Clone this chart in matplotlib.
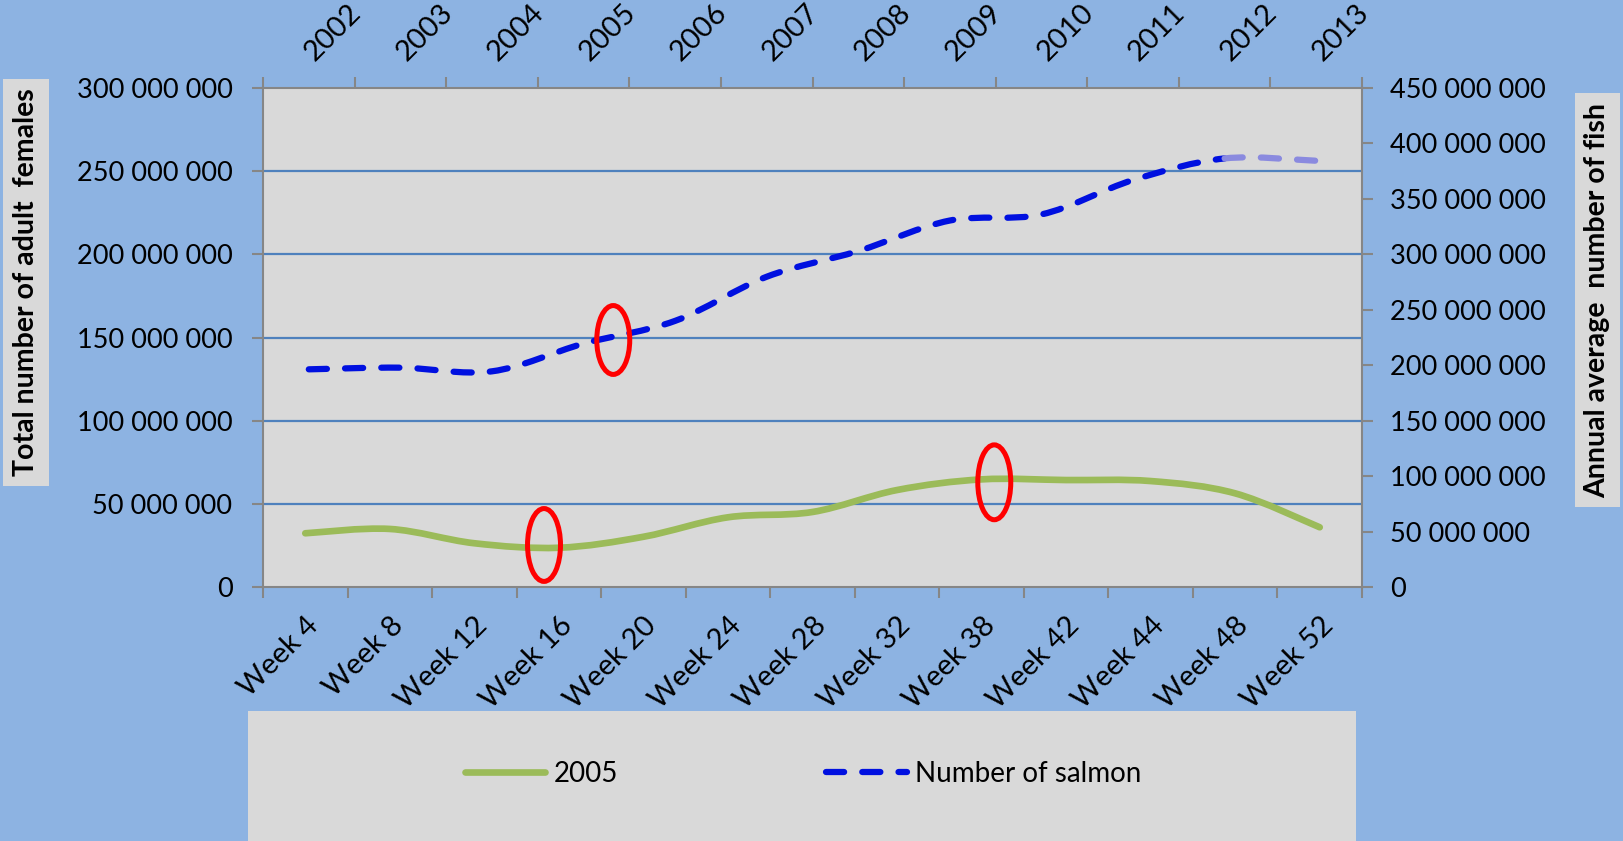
import numpy as np
import matplotlib
matplotlib.use('Agg')
import matplotlib.pyplot as plt
from matplotlib.path import Path
from matplotlib.patches import PathPatch, Ellipse
from matplotlib.lines import Line2D
from matplotlib.ticker import FuncFormatter
from matplotlib.transforms import ScaledTranslation

plt.rcParams['font.family'] = ['Lato', 'DejaVu Sans']

# data
weeks = ['Week 4', 'Week 8', 'Week 12', 'Week 16', 'Week 20', 'Week 24', 'Week 28',
         'Week 32', 'Week 38', 'Week 42', 'Week 44', 'Week 48', 'Week 52']
females_2005 = [32.3e6, 34.9e6, 26.3e6, 23.6e6, 30.2e6, 41.9e6, 45.1e6,
                58.3e6, 64.7e6, 64.3e6, 63.7e6, 56.3e6, 35.9e6]
years = ['2002', '2003', '2004', '2005', '2006', '2007', '2008',
         '2009', '2010', '2011', '2012', '2013']
salmon = [196.3e6, 197.8e6, 194.5e6, 219.5e6, 240e6, 279.8e6, 303e6,
          330.5e6, 336e6, 367e6, 386.5e6, 384.4e6]

BG = '#8DB3E2'
PANEL = '#D9D9D9'
GRID = '#4F81BD'
SPINE = '#868686'
GREEN = '#9BBB59'
BLUE = '#0010E0'
LIGHT_BLUE = '#8A8ADF'


def smooth_segments(xs, ys):
    """Bezier segments (Catmull-Rom style) like Excel smoothed lines"""
    pts = np.column_stack([xs, ys]).astype(float)
    n = len(pts)
    segs = []
    for i in range(n - 1):
        p0 = pts[max(i - 1, 0)]
        p1 = pts[i]
        p2 = pts[i + 1]
        p3 = pts[min(i + 2, n - 1)]
        c1 = p1 + (p2 - p0) / 6
        c2 = p2 - (p3 - p1) / 6
        segs.append((p1, c1, c2, p2))
    return segs


def segs_to_path(segs):
    verts = [segs[0][0]]
    codes = [Path.MOVETO]
    for s in segs:
        verts += [s[1], s[2], s[3]]
        codes += [Path.CURVE4] * 3
    return Path(verts, codes)


fmt = FuncFormatter(lambda v, p: f"{int(round(v)):,}".replace(',', ' '))

fig = plt.figure(figsize=(16.23, 8.41), dpi=100, facecolor=BG)
rect = [263 / 1623, 1 - 587 / 841, 1099 / 1623, 499 / 841]

# primary axes: weeks / adult females
ax = fig.add_axes(rect)
ax.set_facecolor(PANEL)
ax.set_xlim(0, len(weeks))
ax.set_ylim(0, 300e6)
ax.set_yticks(np.arange(0, 300e6 + 1, 50e6))
ax.yaxis.set_major_formatter(fmt)
ax.set_xticks(np.arange(len(weeks) + 1))
ax.set_xticklabels([])
ax.set_xticks(np.arange(len(weeks)) + 0.5, minor=True)
ax.set_xticklabels(weeks, minor=True, rotation=45, ha='right', va='top',
                   rotation_mode='anchor', fontsize=21)
ax.tick_params(axis='x', which='minor', length=0, pad=18)
ax.tick_params(axis='x', which='major', length=8, width=1.5, color=SPINE, direction='out')
ax.tick_params(axis='y', length=8, width=1.5, color=SPINE, direction='out',
               labelsize=19.5, pad=14)
for sp in ax.spines.values():
    sp.set_color(SPINE)
    sp.set_linewidth(1.5)
for v in np.arange(50e6, 300e6, 50e6):
    ax.axhline(v, color=GRID, lw=1.6, zorder=1)

xw = np.arange(len(weeks)) + 0.5
green_path = segs_to_path(smooth_segments(xw, females_2005))
ax.add_patch(PathPatch(green_path, fill=False, edgecolor=GREEN, lw=4.8,
                       capstyle='round', joinstyle='round', zorder=3))

# secondary axes: years / number of salmon
ax2 = fig.add_axes(rect, frameon=False)
ax2.patch.set_visible(False)
ax2.set_xlim(0, len(years))
ax2.set_ylim(0, 450e6)
ax2.xaxis.tick_top()
ax2.yaxis.tick_right()
ax2.set_yticks(np.arange(0, 450e6 + 1, 50e6))
ax2.yaxis.set_major_formatter(fmt)
ax2.set_xticks(np.arange(len(years) + 1))
ax2.set_xticklabels([])
ax2.set_xticks(np.arange(len(years)) + 0.5, minor=True)
ax2.set_xticklabels(years, minor=True, rotation=45, ha='left', va='baseline',
                    rotation_mode='anchor', fontsize=21)
ax2.tick_params(axis='x', which='minor', length=0, pad=18, top=True, bottom=False)
ax2.tick_params(axis='x', which='major', length=8, width=1.5, color=SPINE,
                direction='out', top=True, bottom=False)
ax2.tick_params(axis='y', length=8, width=1.5, color=SPINE, direction='out',
                labelsize=19.5, pad=12, right=True, left=False)
shift = ScaledTranslation(0.06, 0.01, fig.dpi_scale_trans)
for lab in ax2.get_xticklabels(minor=True):
    lab.set_transform(lab.get_transform() + shift)

xy = np.arange(len(years)) + 0.5
bsegs = smooth_segments(xy, salmon)
ax2.add_patch(PathPatch(segs_to_path(bsegs[:-1]), fill=False, edgecolor=BLUE, lw=4.5,
                        linestyle=(0, (2.9, 2.9)), capstyle='round', joinstyle='round',
                        zorder=3))
ax2.add_patch(PathPatch(segs_to_path(bsegs[-1:]), fill=False, edgecolor=LIGHT_BLUE, lw=4.5,
                        linestyle=(0, (2.9, 2.9)), capstyle='round', joinstyle='round',
                        zorder=3))

# red highlight ellipses
for cx, cy, h in [(0.3187, 0.495, 0.138), (0.2557, 0.0842, 0.146), (0.6654, 0.2098, 0.150)]:
    ax2.add_patch(Ellipse((cx, cy), 0.030, h, transform=ax2.transAxes, fill=False,
                          edgecolor='#FF0000', lw=3.6, zorder=5, clip_on=False))

# axis titles in grey boxes
fig.text(0.016, 0.6646, 'Total number of adult  females', rotation=90, ha='center',
         va='center', fontsize=20.5, fontweight='bold',
         bbox=dict(facecolor=PANEL, edgecolor='none', pad=7))
fig.text(0.9843, 0.643, 'Annual average  number of fish', rotation=90, ha='center',
         va='center', fontsize=20.5, fontweight='bold',
         bbox=dict(facecolor=PANEL, edgecolor='none', pad=7))

# legend panel
axl = fig.add_axes([248 / 1623, 0, 1108 / 1623, 130 / 841])
axl.set_facecolor(PANEL)
axl.set_xticks([])
axl.set_yticks([])
for sp in axl.spines.values():
    sp.set_visible(False)
handles = [Line2D([], [], color=GREEN, lw=4.8, solid_capstyle='round'),
           Line2D([], [], color=BLUE, lw=4.5, linestyle=(0, (2.9, 2.9)),
                  dash_capstyle='round')]
axl.legend(handles, ['2005', 'Number of salmon'], loc='center',
           bbox_to_anchor=(0.501, 0.515), ncol=2, frameon=False, fontsize=20,
           handlelength=2.9, handletextpad=0.3, columnspacing=7.5)

fig.savefig('out.png', dpi=100, facecolor=BG)
